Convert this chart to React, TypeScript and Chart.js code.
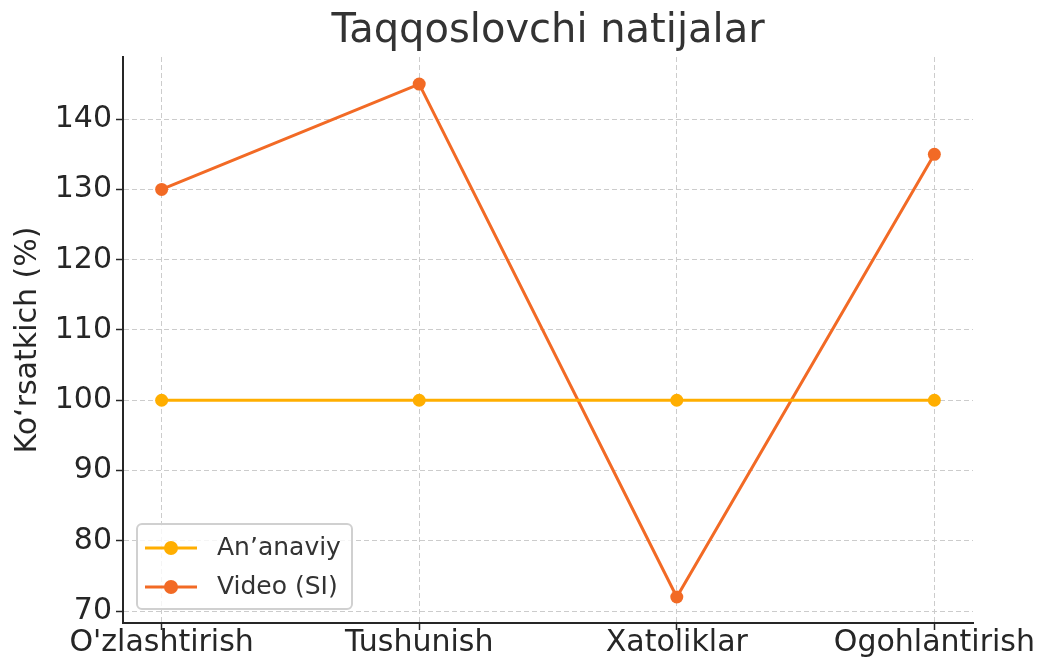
import React, { useEffect, useRef } from "react";
import { Chart, registerables } from "chart.js";

Chart.register(...registerables);

const categories = ["O'zlashtirish", "Tushunish", "Xatoliklar", "Ogohlantirish"];
const traditionalValues = [100, 100, 100, 100];
const videoValues = [130, 145, 72, 135];
const yTicks = [70, 80, 90, 100, 110, 120, 130, 140];
const seriesLabels = ["An’anaviy", "Video (SI)"];
const seriesColors = ["#FFAE00", "#F26A25"];

const FONT = "'DejaVu Sans', sans-serif";

const legendPlugin = {
  id: "innerLegend",
  afterDraw(chart: any) {
    const { ctx, chartArea } = chart;
    const x0 = chartArea.left + 14;
    const y1 = chartArea.bottom - 14;
    const w = 215;
    const h = 85;
    const y0 = y1 - h;
    ctx.save();
    ctx.beginPath();
    const r = 5;
    ctx.moveTo(x0 + r, y0);
    ctx.arcTo(x0 + w, y0, x0 + w, y0 + h, r);
    ctx.arcTo(x0 + w, y0 + h, x0, y0 + h, r);
    ctx.arcTo(x0, y0 + h, x0, y0, r);
    ctx.arcTo(x0, y0, x0 + w, y0, r);
    ctx.closePath();
    ctx.fillStyle = "rgba(255,255,255,0.8)";
    ctx.fill();
    ctx.strokeStyle = "#d0d0d0";
    ctx.lineWidth = 2;
    ctx.stroke();
    chart.data.datasets.forEach((ds: any, i: number) => {
      const cy = y0 + 24 + i * 39;
      ctx.strokeStyle = ds.borderColor;
      ctx.lineWidth = 3;
      ctx.beginPath();
      ctx.moveTo(x0 + 8, cy);
      ctx.lineTo(x0 + 60, cy);
      ctx.stroke();
      ctx.fillStyle = ds.borderColor;
      ctx.beginPath();
      ctx.arc(x0 + 34, cy, 7, 0, Math.PI * 2);
      ctx.fill();
      ctx.fillStyle = "#333333";
      ctx.font = `25px ${FONT}`;
      ctx.textAlign = "left";
      ctx.textBaseline = "middle";
      ctx.fillText(ds.label, x0 + 80, cy);
    });
    ctx.restore();
  },
};

export default function App() {
  const ref = useRef<HTMLCanvasElement>(null);
  useEffect(() => {
    document.body.style.margin = "0";
    const ctx = ref.current!.getContext("2d")!;
    const makeData = (vals: number[]) => vals.map((v, i) => ({ x: i, y: v }));
    const gridOpts = {
      color: "#cccccc",
      lineWidth: 1,
      tickLength: 7,
      tickColor: "#262626",
      tickWidth: 1.5,
      tickBorderDash: [],
    };
    const chart = new Chart(ctx, {
      type: "line",
      data: {
        datasets: [
          {
            label: seriesLabels[0],
            data: makeData(traditionalValues),
            borderColor: seriesColors[0],
            backgroundColor: seriesColors[0],
            borderWidth: 3,
            pointRadius: 6.5,
            pointHoverRadius: 6.5,
            pointBorderWidth: 0,
          },
          {
            label: seriesLabels[1],
            data: makeData(videoValues),
            borderColor: seriesColors[1],
            backgroundColor: seriesColors[1],
            borderWidth: 3,
            pointRadius: 6.5,
            pointHoverRadius: 6.5,
            pointBorderWidth: 0,
          },
        ],
      },
      options: {
        animation: false,
        responsive: false,
        layout: { padding: { top: 0, right: 67, left: 0, bottom: 0 } },
        plugins: {
          legend: { display: false },
          tooltip: { enabled: false },
          title: {
            display: true,
            fullSize: false,
            text: "Taqqoslovchi natijalar",
            color: "#333333",
            font: { family: FONT, size: 40, weight: "normal" },
            padding: { top: 8, bottom: 1 },
          },
        },
        scales: {
          x: {
            type: "linear",
            min: -0.15,
            max: 3.15,
            afterBuildTicks: (s: any) => {
              s.ticks = categories.map((_, i) => ({ value: i }));
            },
            afterFit: (s: any) => {
              s.height = 39;
            },
            ticks: {
              callback: (v: any) => categories[v] ?? "",
              color: "#262626",
              font: { family: FONT, size: 30 },
              padding: -5,
              maxRotation: 0,
              autoSkip: false,
            },
            grid: gridOpts,
            border: { color: "#262626", width: 2, dash: [5, 3] },
          },
          y: {
            type: "linear",
            min: 68.3,
            max: 148.85,
            afterBuildTicks: (s: any) => {
              s.ticks = yTicks.map((v) => ({ value: v }));
            },
            afterFit: (s: any) => {
              s.width = 123;
            },
            title: {
              display: true,
              text: "Ko‘rsatkich (%)",
              color: "#262626",
              font: { family: FONT, size: 30 },
              padding: { top: 10, bottom: 0 },
            },
            ticks: {
              color: "#262626",
              font: { family: FONT, size: 30 },
              padding: 4,
            },
            grid: gridOpts,
            border: { color: "#262626", width: 2, dash: [5, 3] },
          },
        },
      },
      plugins: [legendPlugin],
    } as any);
    return () => chart.destroy();
  }, []);
  return <canvas ref={ref} width={1040} height={662} style={{ display: "block" }} />;
}
